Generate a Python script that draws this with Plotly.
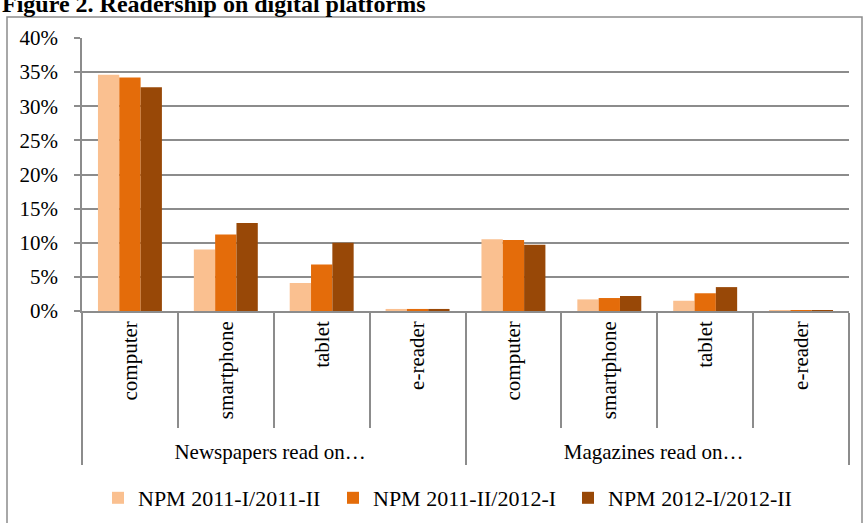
import plotly.graph_objects as go

groups = ["Newspapers read on…"] * 4 + ["Magazines read on…"] * 4
devices = ["computer", "smartphone", "tablet", "e-reader"] * 2
series_names = ["NPM 2011-I/2011-II", "NPM 2011-II/2012-I", "NPM 2012-I/2012-II"]
s1 = [34.6, 9.0, 4.1, 0.3, 10.5, 1.7, 1.5, 0.1]
s2 = [34.2, 11.2, 6.8, 0.3, 10.4, 1.9, 2.6, 0.1]
s3 = [32.8, 12.9, 10.0, 0.3, 9.7, 2.2, 3.5, 0.1]
colors = ["#FAC090", "#E46C0A", "#984807"]
y_ticks = [0, 5, 10, 15, 20, 25, 30, 35, 40]
y_tick_text = [f"{v}%" for v in y_ticks]

FONT = "Liberation Serif"
GRAY = "#8C8C8C"

fig = go.Figure()
for name, vals, c in zip(series_names, [s1, s2, s3], colors):
    fig.add_trace(go.Bar(x=[groups, devices], y=vals, name=name,
                         marker=dict(color=c, line=dict(width=0))))

W, H = 863, 523
L, R, T, B = 82, 14, 38, 212
pw, ph = W - L - R, H - T - B

def px(x):
    return (x - L) / pw

def py(y):
    return (H - B - y) / ph

fig.update_layout(
    width=W, height=H,
    margin=dict(l=L, r=R, t=T, b=B, autoexpand=False),
    paper_bgcolor="white", plot_bgcolor="white",
    font=dict(family=FONT, size=22, color="black"),
    barmode="group", bargap=0.333, bargroupgap=0,
    showlegend=True,
    legend=dict(orientation="h", x=0.5 - 15 / pw, xanchor="center", y=py(498), yanchor="middle",
                font=dict(family=FONT, size=22), itemwidth=30,
                entrywidth=190, traceorder="normal"),
    xaxis=dict(type="multicategory", tickangle=-90, showline=True, linecolor=GRAY, linewidth=1.5,
               ticks="outside", ticklen=115, tickcolor=GRAY, tickwidth=1.5,
               showdividers=True, dividercolor=GRAY, dividerwidth=1.5,
               tickfont=dict(family=FONT, size=21)),
    yaxis=dict(range=[0, 40], tickmode="array", tickvals=y_ticks, ticktext=y_tick_text,
               showgrid=True, gridcolor=GRAY, gridwidth=1.5, showline=True, linecolor=GRAY,
               linewidth=1.5, ticks="outside", ticklen=6, tickcolor=GRAY, tickwidth=1.5,
               ticklabelstandoff=12, zeroline=False, tickfont=dict(family=FONT, size=21)),
)

fig.add_shape(type="rect", xref="paper", yref="paper",
              x0=px(7), x1=px(862), y0=py(530), y1=py(17),
              line=dict(color=GRAY, width=1.5), fillcolor="rgba(0,0,0,0)", layer="below")

fig.add_annotation(text="<b>Figure 2. Readership on digital platforms</b>", xref="paper", yref="paper",
                   x=px(0), xanchor="left", y=py(19), yanchor="bottom", showarrow=False,
                   font=dict(family=FONT, size=24, color="black"))

fig.write_html("out.html")
